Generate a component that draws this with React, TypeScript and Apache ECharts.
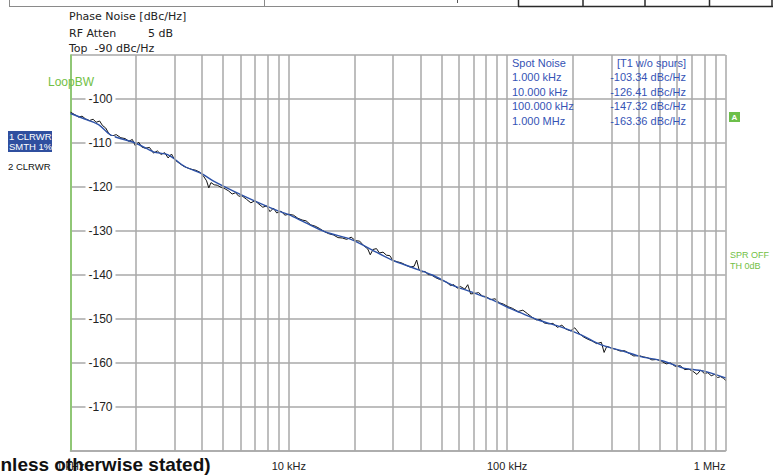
import React, { useEffect, useRef } from "react";
import * as echarts from "echarts";

// Smoothed trace (blue), frequency in kHz and level in dBc/Hz
const smoothKHz = [1, 1.2, 1.35, 1.53, 1.98, 2.4, 2.8, 3.35, 3.97, 4.5, 5.67, 7, 8.7, 10, 11.9, 14.7, 19.5, 24, 29.7, 36.7, 45.4, 56, 69, 85, 101, 114, 142, 176, 218, 270, 334, 414, 513, 636, 788, 1000];
const smoothDb = [-103.3, -104.8, -105.9, -108.2, -110.0, -112.0, -112.7, -115.4, -116.9, -118.6, -121.1, -123.2, -125.2, -126.3, -128.1, -130.2, -132.0, -134.3, -136.6, -138.3, -140.0, -142.3, -143.9, -145.6, -147.4, -148.5, -150.4, -151.8, -153.6, -155.9, -157.2, -158.6, -159.5, -161.1, -161.8, -163.4];

// Raw trace (black)
const rawKHz = [1.0, 1.05, 1.09, 1.13, 1.17, 1.22, 1.27, 1.31, 1.36, 1.4, 1.45, 1.5, 1.55, 1.62, 1.7, 1.78, 1.85, 1.92, 1.98, 2.05, 2.12, 2.2, 2.3, 2.4, 2.5, 2.6, 2.7, 2.8, 2.9, 3.0, 3.15, 3.3, 3.45, 3.6, 3.75, 3.9, 4.05, 4.2, 4.3, 4.4, 4.55, 4.7, 4.9, 5.1, 5.3, 5.5, 5.7, 5.9, 6.1, 6.4, 6.7, 7.0, 7.3, 7.6, 7.9, 8.2, 8.5, 8.8, 9.2, 9.6, 10, 10.5, 11, 11.5, 12, 12.6, 13.2, 13.8, 14.5, 15.2, 16, 16.8, 17.6, 18.4, 19.3, 20.2, 21.1, 22, 23, 23.6, 24.3, 25.2, 26, 27, 28, 29, 30, 31.5, 33, 34.5, 36, 37.5, 38.5, 39.5, 40.5, 42, 43.5, 45, 47, 49, 51, 53, 55, 57, 59, 61, 64, 66, 68, 71, 74, 77, 80, 84, 88, 92, 96, 101, 106, 112, 118, 124, 130, 136, 142, 148, 155, 162, 170, 178, 186, 195, 204, 214, 224, 234, 245, 257, 270, 278, 286, 300, 315, 330, 345, 362, 380, 400, 420, 440, 460, 485, 510, 535, 560, 590, 620, 650, 680, 710, 740, 770, 800, 830, 860, 890, 920, 950, 980, 1000];
const rawDb = [-103.0, -103.6, -104.1, -103.9, -104.5, -104.9, -104.6, -105.3, -105.0, -106.0, -106.6, -107.9, -108.4, -108.1, -108.8, -109.0, -109.6, -109.2, -110.6, -109.8, -110.9, -111.2, -111.0, -112.3, -111.8, -112.6, -112.2, -113.4, -112.5, -113.8, -114.6, -115.3, -115.7, -116.0, -116.2, -116.6, -117.4, -118.6, -120.2, -119.0, -119.5, -119.6, -120.1, -120.4, -120.9, -121.6, -121.3, -122.1, -122.0, -122.8, -123.6, -123.1, -123.9, -124.6, -124.3, -125.6, -124.8, -125.9, -125.5, -126.4, -126.2, -126.4, -127.1, -127.5, -127.7, -128.6, -128.9, -129.4, -130.1, -130.6, -130.9, -131.5, -131.6, -131.9, -131.4, -132.2, -132.3, -133.3, -134.1, -135.4, -134.2, -134.0, -135.0, -134.8, -135.5, -135.6, -136.7, -137.0, -137.3, -137.8, -138.2, -138.0, -136.6, -138.8, -139.3, -139.2, -139.9, -140.0, -140.6, -141.0, -141.3, -141.7, -142.4, -142.2, -143.0, -142.6, -143.2, -142.2, -144.3, -144.2, -144.0, -144.8, -144.9, -145.6, -145.4, -146.3, -146.6, -147.2, -147.6, -148.3, -148.0, -148.8, -149.6, -150.2, -150.1, -150.9, -151.1, -151.0, -151.9, -151.4, -152.3, -152.7, -152.0, -153.3, -154.1, -154.6, -155.0, -155.6, -155.3, -157.6, -156.2, -156.6, -156.9, -157.3, -157.2, -157.8, -158.4, -158.3, -158.6, -158.8, -159.3, -159.2, -159.6, -160.2, -160.0, -160.8, -160.6, -161.5, -161.4, -161.9, -162.6, -161.6, -162.4, -162.2, -162.9, -162.6, -163.3, -163.1, -163.5, -163.9];

// Axis ticks
const xTickHz = [1000, 10000, 100000, 1000000];
const xTickLabels = ["1 kHz", "10 kHz", "100 kHz", "1 MHz"];
const minorGridHz = [2000, 3000, 4000, 5000, 6000, 7000, 8000, 9000, 20000, 30000, 40000, 50000, 60000, 70000, 80000, 90000, 200000, 300000, 400000, 500000, 600000, 700000, 800000, 900000];
const yMin = -180;
const yMax = -90;
const yStep = 10;

// Spot noise table
const spotFreqLabels = ["1.000 kHz", "10.000 kHz", "100.000 kHz", "1.000 MHz"];
const spotValueLabels = ["-103.34 dBc/Hz", "-126.41 dBc/Hz", "-147.32 dBc/Hz", "-163.36 dBc/Hz"];

// Header info
const headerLines = ["Phase Noise [dBc/Hz]", "RF Atten", "Top  -90 dBc/Hz"];

const SANS = "'Liberation Sans', Arial, sans-serif";
const GRID = "#a9a9a9";
const GREEN = "#72c045";
const BLUE_TXT = "#3553b5";

export default function App() {
  const ref = useRef<HTMLDivElement>(null);
  useEffect(() => {
    if (!ref.current) return;
    const chart = echarts.init(ref.current, null, { renderer: "svg" });

    const smooth = smoothKHz.map((f, i) => [f * 1000, smoothDb[i]]);
    const raw = rawKHz.map((f, i) => [f * 1000, rawDb[i]]);

    const hdr = (x1: number, y1: number, x2: number, y2: number, color: string, w: number) => ({
      type: "line",
      shape: { x1, y1, x2, y2 },
      style: { stroke: color, lineWidth: w },
      silent: true,
    });
    const txt = (x: number, y: number, text: string, font: string, fill: string, align = "left", z = 10) => ({
      type: "text",
      x,
      y,
      z,
      style: { text, font, fill, align, verticalAlign: "middle" },
      silent: true,
    });

    const HDR_FONT = "11px 'DejaVu Sans'";
    const graphics: any[] = [
      hdr(9, 6.5, 518, 6.5, "#8a8a8a", 1),
      hdr(9.5, 0, 9.5, 6.5, "#8a8a8a", 1),
      hdr(264.5, 0, 264.5, 6.5, "#8a8a8a", 1),
      hdr(457.5, 0, 457.5, 3, "#555", 1),
      hdr(518, 6.5, 773, 6.5, "#2a2a2a", 1.5),
      hdr(518.5, 0, 518.5, 6.5, "#2a2a2a", 1.5),
      hdr(583, 0, 583, 6.5, "#2a2a2a", 1.5),
      hdr(645, 0, 645, 6.5, "#2a2a2a", 1.5),
      hdr(709.5, 0, 709.5, 6.5, "#2a2a2a", 1.5),
      hdr(772, 0, 772, 6.5, "#2a2a2a", 1.5),
      txt(69, 16, headerLines[0], HDR_FONT, "#222"),
      txt(69, 33, headerLines[1], HDR_FONT, "#222"),
      txt(148, 33, "5 dB", HDR_FONT, "#222"),
      txt(69, 48, headerLines[2], HDR_FONT, "#222"),
      txt(71, 82, "LoopBW", `12px ${SANS}`, GREEN, "center"),
      {
        type: "rect",
        shape: { x: 8, y: 131, width: 44, height: 21 },
        style: { fill: "#2f4f9f" },
        silent: true,
      },
      txt(9, 136.5, "1 CLRWR", `9.5px ${SANS}`, "#fff"),
      txt(9, 146.5, "SMTH 1%", `9.5px ${SANS}`, "#fff"),
      txt(8, 166, "2 CLRWR", `9.5px ${SANS}`, "#111"),
      {
        type: "rect",
        shape: { x: 729, y: 112, width: 11, height: 10 },
        style: { fill: "#6cbf4a" },
        silent: true,
      },
      txt(734.5, 117.5, "A", `bold 8px ${SANS}`, "#fff", "center"),
      txt(730, 255, "SPR OFF", `9px ${SANS}`, GREEN),
      txt(730, 266, "TH 0dB", `9px ${SANS}`, GREEN),
      txt(512, 62.5, "Spot Noise", `11px ${SANS}`, BLUE_TXT),
      txt(686, 62.5, "[T1 w/o spurs]", `11px ${SANS}`, BLUE_TXT, "right"),
      txt(0.5, 464, "nless otherwise stated)", `bold 19px ${SANS}`, "#111"),
    ];
    spotFreqLabels.forEach((s, i) => {
      const y = 77 + i * 14.5;
      graphics.push(txt(512, y, s, `11px ${SANS}`, BLUE_TXT));
      graphics.push(txt(686, y, spotValueLabels[i], `11px ${SANS}`, BLUE_TXT, "right"));
    });

    const option: any = {
      animation: false,
      backgroundColor: "#fff",
      grid: { left: 70.5, right: 52.5, top: 55, bottom: 24, containLabel: false },
      xAxis: {
        type: "log",
        logBase: 10,
        min: 1000,
        max: 1000000,
        axisLine: { show: true, lineStyle: { color: GRID, width: 1.5 } },
        axisTick: { show: false },
        splitLine: { show: true, lineStyle: { color: GRID, width: 1.5 } },
        axisLabel: {
          margin: 9,
          fontFamily: SANS,
          fontSize: 11,
          color: "#222",
          alignMaxLabel: "right",
          formatter: (v: number) => {
            const i = xTickHz.findIndex((t) => Math.abs(t - v) / t < 1e-6);
            return i >= 0 ? xTickLabels[i] : "";
          },
        },
      },
      yAxis: [
        {
          type: "value",
          min: yMin,
          max: yMax,
          interval: yStep,
          z: 0,
          axisLine: { show: true, lineStyle: { color: "#86cf63", width: 1.5 } },
          axisTick: { show: false },
          axisLabel: { show: false },
          splitLine: { show: true, lineStyle: { color: GRID, width: 1.5 } },
        },
        {
          type: "value",
          min: yMin,
          max: yMax,
          interval: yStep,
          position: "left",
          z: 5,
          axisLine: { show: false },
          axisTick: { show: false },
          splitLine: { show: false },
          axisLabel: {
            inside: true,
            margin: 15,
            showMinLabel: false,
            showMaxLabel: false,
            fontFamily: SANS,
            fontSize: 12,
            color: "#222",
            backgroundColor: "#fff",
            padding: [1, 3, 1, 3],
          },
        },
      ],
      series: [
        {
          type: "line",
          data: [],
          z: 1,
          silent: true,
          markLine: {
            silent: true,
            symbol: ["none", "none"],
            label: { show: false },
            lineStyle: { color: GRID, width: 1.5, type: "solid" },
            data: minorGridHz.map((f) => ({ xAxis: f })),
          },
        },
        {
          type: "line",
          data: raw,
          z: 2,
          showSymbol: false,
          symbol: "none",
          lineStyle: { color: "#151515", width: 1 },
        },
        {
          type: "line",
          data: smooth,
          z: 3,
          showSymbol: false,
          symbol: "none",
          smooth: 0.3,
          lineStyle: { color: "#2d52a8", width: 1.4 },
        },
      ],
      graphic: { elements: graphics },
    };
    chart.setOption(option);
    return () => chart.dispose();
  }, []);
  return (
    <div
      ref={ref}
      style={{ position: "absolute", left: 0, top: 0, width: 778, height: 475 }}
    />
  );
}
